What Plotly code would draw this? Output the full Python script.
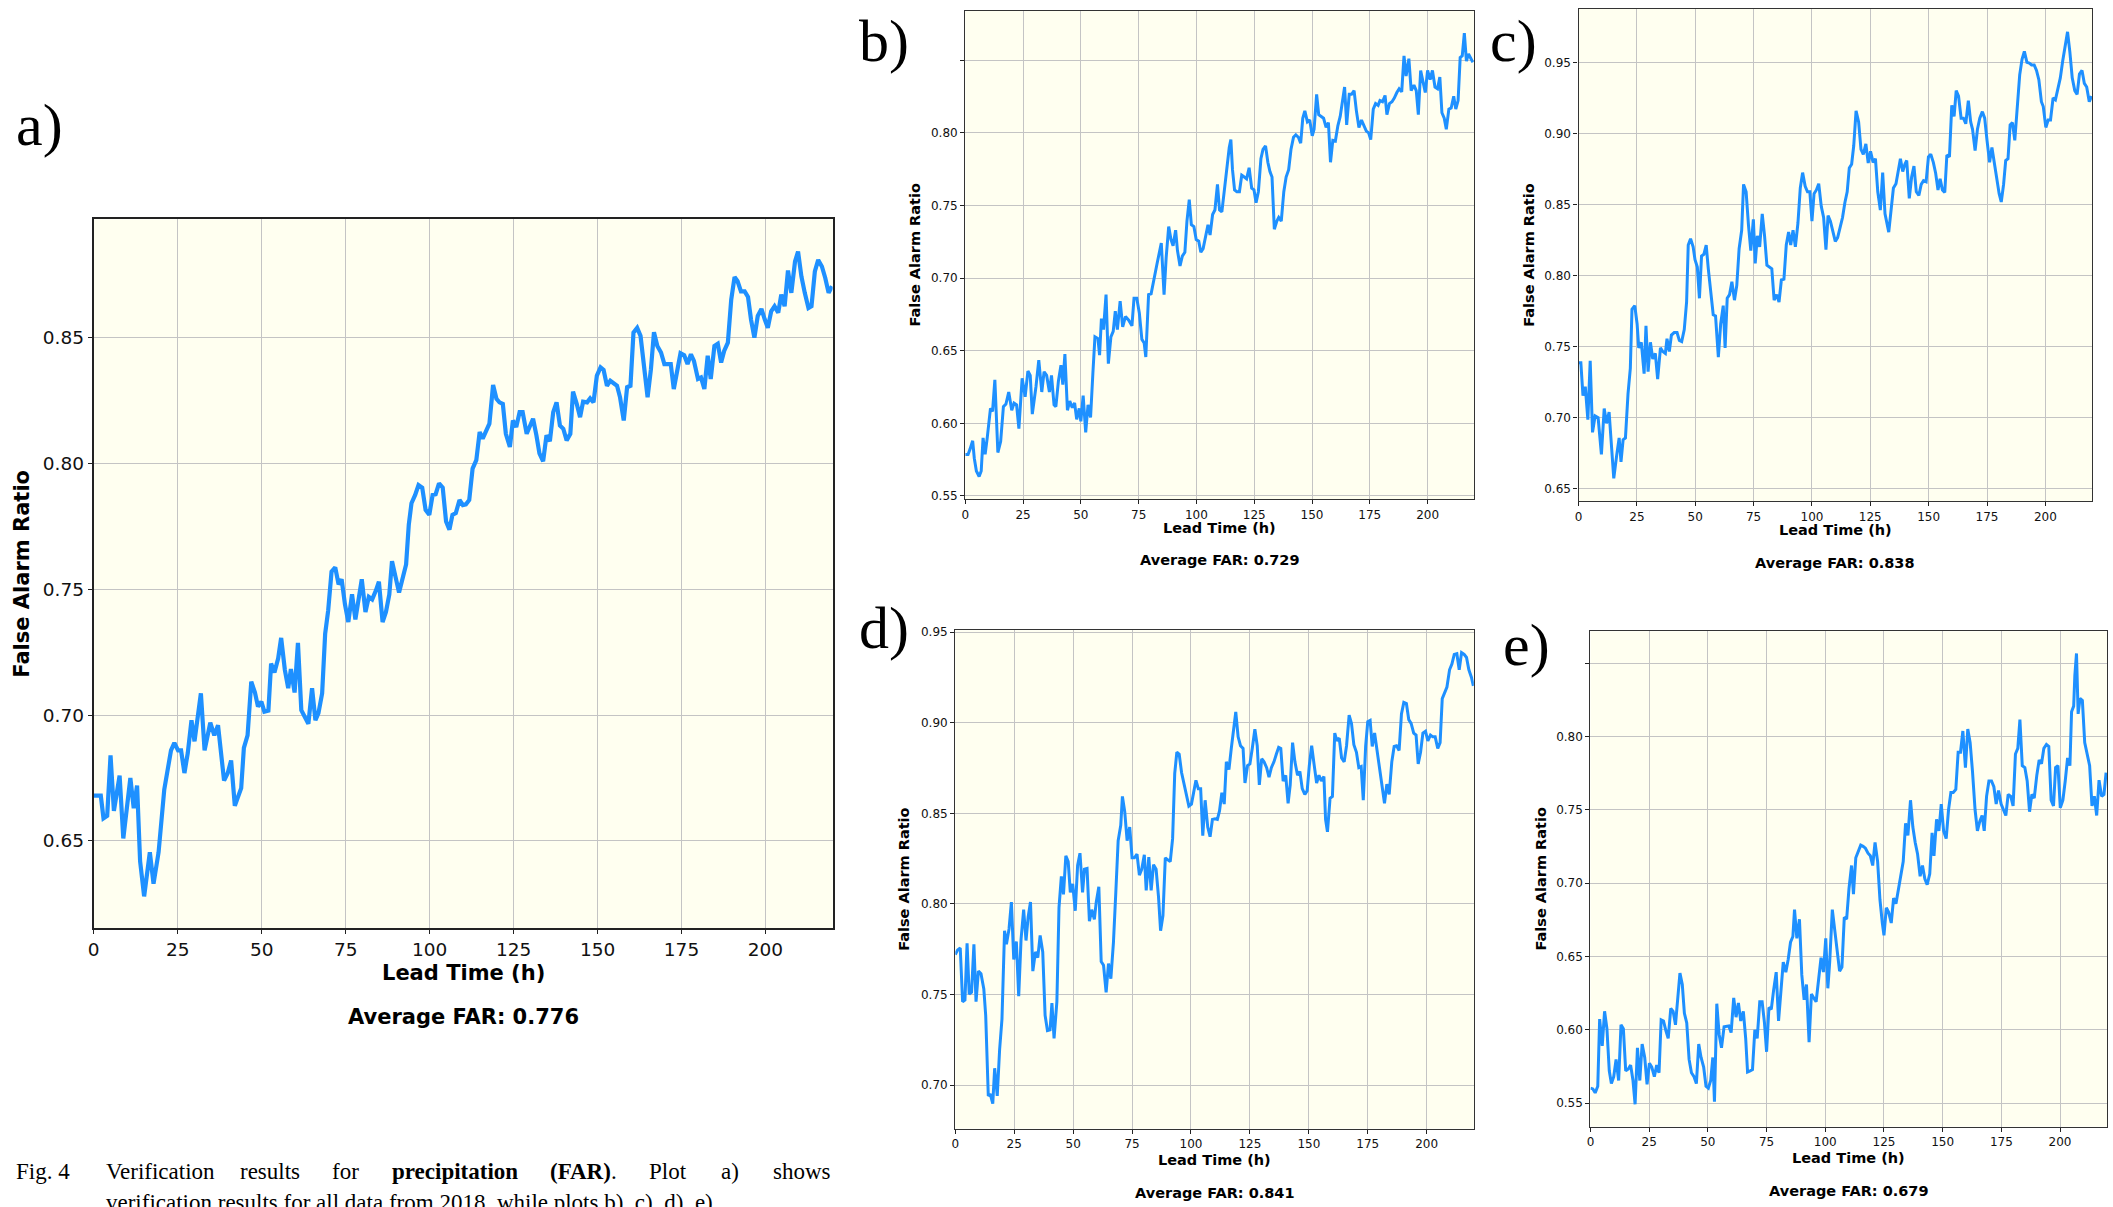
import plotly.graph_objects as go

W, H = 2113, 1207

# ---------------- data (lead time in hours, false alarm ratio) ----------------
a_x = [0, 2.1, 2.9, 4, 5, 6, 7.7, 8.8, 10.9, 11.9, 12.9, 13.8, 15, 16.7, 17.8, 19.3, 21, 23, 24, 25.1, 26, 27, 28,
       29.1, 30, 31, 31.9, 33, 34.7, 35.9, 37, 38.8, 39.9, 40.9, 42, 43.9, 44.7, 45.8, 46.9, 48, 48.9, 49.9, 50.8,
       52, 52.8, 53.8, 54.9, 55.8, 56.9, 57.9, 58.7, 59.8, 60.8, 61.8, 63.9, 65, 66, 66.9, 68, 68.9, 69.8, 70.8,
       71.9, 72.9, 73.8, 74.8, 75.8, 76.9, 77.9, 79.8, 80.9, 81.9, 82.9, 84, 84.9, 86, 87, 88, 88.8, 90.9, 93,
       93.8, 94.6, 95.7, 96.7, 97.8, 98.8, 99.9, 100.9, 101.8, 102.8, 103.9, 104.9, 105.9, 106.8, 107.8, 108.9,
       109.9, 110.8, 111.8, 112.8, 113.9, 114.9, 115.8, 117.8, 118.9, 119.9, 120.8, 121.8, 122.7, 123.9, 124.8,
       125.8, 126.8, 127.7, 128.9, 130.8, 131.8, 132.7, 133.8, 134.8, 135.8, 136.8, 137.8, 138.8, 139.8, 140.8,
       141.9, 142.7, 143.8, 144.8, 145.7, 146.9, 147.8, 148.8, 149.8, 150.9, 151.8, 152.8, 153.8, 155.8, 156.7,
       157.8, 158.8, 159.8, 160.7, 161.8, 162.8, 163.8, 164.9, 165.9, 166.8, 167.8, 168.9, 169.9, 171.8, 172.7,
       174.7, 175.8, 176.8, 177.8, 178.7, 179.9, 180.8, 181.8, 182.8, 183.7, 184.8, 185.8, 186.8, 187.7, 188.8,
       189.8, 190.8, 191.7, 192.7, 193.8, 194.8, 195.7, 196.7, 197.7, 198.8, 199.8, 200.7, 201.7, 202.7, 203.8,
       204.7, 205.7, 206.7, 207.7, 208.8, 209.7, 210.7, 211.7, 212.8, 213.7, 214.7, 215.7, 216.8, 217.8, 218.8,
       219.8]
a_y = [0.668, 0.668, 0.659, 0.660, 0.684, 0.662, 0.676, 0.651, 0.675, 0.663, 0.672, 0.642, 0.628, 0.6455, 0.633,
       0.6455, 0.6705, 0.686, 0.689, 0.686, 0.686, 0.677, 0.685, 0.698, 0.6896, 0.6995, 0.7087, 0.686, 0.697,
       0.692, 0.696, 0.674, 0.677, 0.682, 0.664, 0.671, 0.687, 0.692, 0.7133, 0.709, 0.7034, 0.7054, 0.7014,
       0.7018, 0.7205, 0.717, 0.7225, 0.7307, 0.718, 0.7107, 0.7183, 0.709, 0.7287, 0.702, 0.6966, 0.7107, 0.698,
       0.7008, 0.7087, 0.7324, 0.7416, 0.757, 0.7587, 0.752, 0.754, 0.744, 0.737, 0.748, 0.738, 0.754, 0.741,
       0.747, 0.746, 0.7495, 0.753, 0.737, 0.741, 0.748, 0.7612, 0.7487, 0.7599, 0.7757, 0.7842, 0.7875, 0.7914,
       0.7904, 0.7816, 0.7796, 0.7875, 0.7878, 0.7921, 0.7904, 0.777, 0.7737, 0.7796, 0.7803, 0.7855, 0.7835,
       0.7838, 0.7855, 0.798, 0.8013, 0.8125, 0.8099, 0.8158, 0.8312, 0.8257, 0.8243, 0.8237, 0.8118, 0.8066,
       0.8171, 0.8145, 0.8204, 0.8204, 0.8118, 0.8178, 0.8112, 0.804, 0.8009, 0.8112, 0.8088, 0.8204, 0.8243,
       0.8151, 0.8138, 0.8092, 0.8118, 0.8286, 0.8237, 0.8184, 0.8246, 0.8243, 0.8259, 0.8243, 0.8349, 0.8382,
       0.8372, 0.8309, 0.8329, 0.8309, 0.8263, 0.8171, 0.8303, 0.8309, 0.852, 0.8539, 0.8507, 0.8395, 0.8263,
       0.8375, 0.8522, 0.8467, 0.8441, 0.8395, 0.8395, 0.8296, 0.8438, 0.843, 0.8395, 0.8434, 0.8408, 0.8336,
       0.8342, 0.8296, 0.8428, 0.8336, 0.8467, 0.8476, 0.8401, 0.8447, 0.848, 0.8651, 0.8741, 0.8724, 0.8684,
       0.8684, 0.8662, 0.8572, 0.85, 0.8586, 0.8614, 0.8572, 0.8539, 0.8605, 0.8625, 0.8599, 0.8671, 0.8625,
       0.8767, 0.8678, 0.8803, 0.8842, 0.8743, 0.8678, 0.8618, 0.8625, 0.8763, 0.8809, 0.8783, 0.8737, 0.8678,
       0.8704]

b_x = [0, 1.2, 2.1, 3.2, 3.9, 4.8, 6, 6.9, 7.7, 8.6, 9.5, 10.9, 11.8, 12.8, 14.1, 15.3, 16.5, 17.6, 18.8, 20.1,
       21.1, 22.2, 23.2, 24.6, 25.9, 27.1, 28.1, 29, 30.6, 31.8, 33.1, 34.1, 35.2, 36.4, 37.3, 38.4, 39.2, 40.3,
       41.4, 42.2, 43.1, 44.2, 45.2, 46.3, 47.3, 48.2, 49.3, 50, 51, 52.1, 53.1, 54.2, 55.2, 56.1, 57.4, 58.1,
       58.9, 59.8, 60.9, 61.9, 63, 64, 64.9, 65.8, 67, 68.1, 69.3, 70.7, 72.1, 73, 74.2, 75.3, 76.4, 77.4, 78.1,
       79.3, 80.4, 81.8, 83, 84.8, 86, 86.9, 88, 89, 89.9, 91, 91.8, 92.9, 93.9, 95, 95.9, 96.9, 97.8, 98.9, 99.9,
       101, 101.9, 102.9, 104, 105, 105.9, 107, 108, 109.1, 110, 111, 112.1, 113.1, 114.2, 114.9, 115.6, 116.5,
       117.5, 118.6, 119.6, 120.7, 121.7, 122.8, 123.9, 124.9, 125.8, 126.8, 127.9, 128.8, 129.9, 130.9, 131.8,
       132.7, 133.7, 134.8, 135.6, 136.7, 137.8, 138.8, 139.9, 140.9, 142, 143, 144.1, 145.1, 146, 146.9, 148,
       149, 150.1, 150.9, 152, 152.9, 153.9, 155, 156.1, 157.1, 158, 159, 160.1, 161.2, 162.2, 163.3, 164.1, 165,
       166.1, 167.1, 168.2, 169.2, 170.3, 171.4, 172.4, 173.5, 174.5, 175.4, 176.5, 177.5, 178.6, 179.4, 180.5,
       181.6, 182.4, 183.5, 184.6, 185.6, 186.7, 187.7, 188.8, 189.8, 190.7, 191.9, 192.9, 194.1, 195.1, 196,
       197, 198.1, 199, 200, 201.1, 202.1, 203.2, 204.3, 205.3, 206.2, 207.2, 208.1, 209.2, 210.2, 211.3, 212.2,
       213.2, 214.1, 215, 215.9, 216.8, 217.7, 218.6, 219.6]
b_y = [0.5786, 0.5786, 0.5824, 0.588, 0.576, 0.5672, 0.5634, 0.5672, 0.59, 0.5786, 0.59, 0.6103, 0.6082, 0.63,
       0.5799, 0.5875, 0.6115, 0.6133, 0.6216, 0.609, 0.614, 0.6128, 0.5963, 0.631, 0.6183, 0.636, 0.633, 0.6064,
       0.6254, 0.6436, 0.6216, 0.6355, 0.633, 0.6216, 0.633, 0.6128, 0.6115, 0.6292, 0.6401, 0.6267, 0.6477,
       0.609, 0.6153, 0.6108, 0.614, 0.6027, 0.6103, 0.6014, 0.6191, 0.5938, 0.6128, 0.604, 0.6343, 0.6596,
       0.6583, 0.647, 0.6722, 0.6646, 0.6887, 0.6411, 0.6596, 0.6634, 0.6773, 0.6646, 0.6841, 0.6664, 0.6735,
       0.671, 0.6672, 0.6862, 0.6862, 0.676, 0.6578, 0.6553, 0.6457, 0.6887, 0.6892, 0.7013, 0.7102, 0.7241,
       0.6887, 0.714, 0.7355, 0.7266, 0.7223, 0.733, 0.719, 0.7084, 0.7152, 0.7178, 0.7393, 0.754, 0.7368,
       0.7355, 0.7266, 0.7254, 0.7178, 0.7203, 0.7297, 0.7368, 0.7297, 0.7438, 0.7469, 0.7646, 0.7469, 0.7456,
       0.7608, 0.7772, 0.7899, 0.7954, 0.7747, 0.7608, 0.7595, 0.7595, 0.7709, 0.7696, 0.7684, 0.776, 0.762,
       0.7608, 0.7519, 0.7595, 0.7823, 0.7886, 0.7911, 0.7798, 0.7734, 0.7696, 0.7337, 0.7393, 0.7418, 0.7393,
       0.7595, 0.7696, 0.7747, 0.7886, 0.797, 0.7987, 0.797, 0.7929, 0.8101, 0.8152, 0.8076, 0.8089, 0.798,
       0.8025, 0.8266, 0.8126, 0.8114, 0.8101, 0.8038, 0.8071, 0.7798, 0.7949, 0.7944, 0.8051, 0.8114, 0.8215,
       0.8316, 0.8056, 0.8266, 0.8266, 0.8291, 0.8152, 0.8038, 0.8089, 0.8051, 0.8013, 0.80, 0.7954, 0.8164,
       0.8202, 0.819, 0.8223, 0.8215, 0.8258, 0.8126, 0.8202, 0.8215, 0.824, 0.8278, 0.8304, 0.8283, 0.8531,
       0.8392, 0.8511, 0.8291, 0.8329, 0.8291, 0.8126, 0.843, 0.8354, 0.8278, 0.843, 0.8367, 0.843, 0.8316,
       0.8304, 0.8385, 0.8139, 0.8101, 0.8025, 0.8164, 0.8172, 0.8253, 0.8164, 0.8223, 0.8519, 0.8531, 0.8688,
       0.8494, 0.8544, 0.8511, 0.8486]

c_x = [0, 1, 1.9, 2.9, 4, 5, 6, 7.1, 8.4, 9.8, 11, 12, 13.1, 14.1, 15.1, 16.4, 17.4, 18.2, 19.1, 20.1, 21.2,
       22.2, 22.9, 24.1, 25.1, 25.8, 26.9, 28.1, 28.9, 29.8, 30.8, 31.8, 32.9, 33.9, 35.1, 36.1, 37.2, 37.9,
       38.9, 39.8, 41, 42.2, 43.2, 44.2, 45.3, 46.3, 47, 48, 49.1, 49.9, 50.9, 51.8, 52.7, 53.7, 54.7, 55.6,
       56.6, 57.7, 58.7, 59.9, 60.9, 62, 62.8, 63.7, 64.7, 65.7, 66.8, 67.8, 68.8, 69.9, 70.7, 71.8, 72.8, 73.8,
       74.9, 75.7, 76.6, 77.6, 78.7, 79.7, 80.7, 81.8, 82.8, 83.8, 84.9, 85.9, 86.9, 88, 89, 90, 90.9, 91.9,
       92.9, 94, 95, 96, 97.1, 98.1, 99.1, 100, 100.9, 101.9, 102.9, 104, 105, 106, 106.9, 107.9, 109, 110, 111,
       112, 113.1, 114.1, 115.1, 116, 117, 117.9, 118.9, 120, 121, 122, 123.1, 124.1, 125.1, 126.2, 127.2,
       128.2, 129.3, 130.3, 131.3, 132.9, 133.9, 134.9, 136, 137, 137.9, 138.9, 139.8, 140.6, 141.7, 142.7,
       143.7, 144.7, 145.8, 146.8, 147.8, 148.9, 149.9, 150.9, 152, 153, 154, 154.9, 155.9, 156.9, 157.8,
       158.9, 159.9, 160.9, 161.8, 162.8, 163.9, 164.9, 165.9, 167, 168, 168.8, 169.9, 170.9, 171.9, 173, 174,
       175, 176.1, 177.1, 178.1, 179.2, 180.2, 181.1, 182.1, 183, 184, 184.9, 185.9, 186.9, 188, 189, 190, 191,
       192.1, 193.1, 194.1, 195.2, 196.2, 197.2, 198.3, 199.1, 200.2, 201.2, 202.2, 203.3, 204.3, 205.3, 206.4,
       207.4, 208.4, 209.5, 210.5, 211.5, 212.6, 213.6, 214.6, 215.7, 216.7, 217.7, 218.8, 219.8]
c_y = [0.7388, 0.7388, 0.7156, 0.722, 0.6987, 0.7401, 0.6897, 0.7013, 0.70, 0.6742, 0.7065, 0.6961, 0.7039,
       0.678, 0.6573, 0.6742, 0.6858, 0.669, 0.6845, 0.6858, 0.7168, 0.735, 0.7763, 0.7789, 0.766, 0.7492,
       0.7531, 0.7311, 0.7647, 0.7324, 0.7531, 0.7414, 0.7453, 0.7272, 0.7492, 0.7466, 0.7453, 0.7556, 0.7466,
       0.7582, 0.76, 0.76, 0.7544, 0.7536, 0.7621, 0.7815, 0.8216, 0.826, 0.8203, 0.8113, 0.8061, 0.7841,
       0.8139, 0.8151, 0.8216, 0.8048, 0.7893, 0.7725, 0.7717, 0.7427, 0.766, 0.7789, 0.7492, 0.7841, 0.7867,
       0.7957, 0.7828, 0.7932, 0.819, 0.832, 0.8643, 0.8591, 0.8358, 0.8177, 0.8397, 0.8087, 0.8281, 0.8203,
       0.8436, 0.8281, 0.8074, 0.8061, 0.8048, 0.7828, 0.7867, 0.7815, 0.797, 0.7976, 0.8216, 0.8307, 0.8216,
       0.832, 0.8203, 0.8371, 0.8617, 0.8726, 0.863, 0.8591, 0.8591, 0.8384, 0.8578, 0.8604, 0.8648, 0.8488,
       0.841, 0.8183, 0.8423, 0.8384, 0.8312, 0.8242, 0.8268, 0.8345, 0.841, 0.8514, 0.8591, 0.8759, 0.8785,
       0.8915, 0.916, 0.9083, 0.8889, 0.8855, 0.8928, 0.8793, 0.8876, 0.8798, 0.8824, 0.8591, 0.8462, 0.8726,
       0.8436, 0.8307, 0.8462, 0.8617, 0.8648, 0.8734, 0.8824, 0.8734, 0.8785, 0.8811, 0.8545, 0.8695, 0.8772,
       0.8591, 0.8565, 0.8643, 0.8669, 0.8661, 0.8837, 0.8855, 0.8798, 0.8721, 0.8604, 0.8682, 0.8604, 0.8586,
       0.885, 0.8837, 0.9199, 0.9122, 0.9303, 0.9264, 0.9109, 0.9109, 0.907, 0.9233, 0.9083, 0.9031, 0.8881,
       0.9031, 0.9109, 0.9155, 0.9109, 0.8953, 0.8798, 0.8902, 0.8798, 0.8669, 0.8578, 0.8519, 0.8643, 0.8811,
       0.8824, 0.9062, 0.9078, 0.8953, 0.9233, 0.9414, 0.9523, 0.958, 0.9502, 0.9497, 0.9484, 0.9484, 0.9445,
       0.938, 0.9225, 0.9191, 0.9044, 0.9096, 0.9096, 0.9251, 0.9238, 0.9316, 0.9393, 0.951, 0.9613, 0.9717,
       0.9574, 0.9393, 0.9303, 0.9277, 0.9419, 0.9445, 0.9354, 0.9329, 0.9225, 0.9264]

d_x = [0, 1, 2.1, 3.1, 4.1, 5, 5.9, 6.9, 7.9, 8.8, 9.8, 10.9, 12.1, 12.9, 14, 14.8, 15.9, 16.7, 17.8, 18.8, 19.8,
       20.9, 21.7, 22.8, 23.8, 24.8, 25.9, 26.9, 27.9, 29, 30, 30.9, 31.9, 32.9, 34, 35, 36, 37.1, 38.1, 39.1,
       40.2, 41, 41.9, 43.1, 44, 45, 45.9, 46.9, 47.9, 48.8, 49.8, 50.9, 51.9, 52.9, 54, 54.8, 55.9, 56.9, 57.9,
       59, 59.8, 60.9, 61.9, 62.9, 64, 65, 66, 67.1, 68.1, 69.1, 70.2, 70.9, 71.9, 72.9, 74, 75, 76, 77.1, 78.1,
       79.1, 80.2, 81, 82.1, 83.1, 84.1, 85.2, 86.2, 87.1, 88.1, 89.1, 90.2, 91.2, 92.2, 93.1, 94, 95, 96, 97.1,
       98.1, 99.1, 100.2, 101.2, 102.1, 103.1, 104.1, 105, 106, 107.1, 108.1, 109.1, 110.2, 111.2, 112.1,
       113.1, 114.1, 115, 116.1, 117.1, 118.1, 119, 120, 121, 122.1, 122.9, 124, 125, 126, 127.1, 128.1, 129,
       130, 131, 132.1, 133.1, 134.1, 135.2, 136.2, 137.2, 138.1, 139.1, 140.2, 141.2, 142.1, 143.1, 144.1,
       145.2, 146.2, 147.2, 148.3, 149.3, 150.2, 151.2, 152.2, 153.3, 154.3, 155.3, 156.4, 157.1, 157.9, 159,
       160, 161, 161.9, 162.9, 163.9, 165, 166, 167.1, 168.1, 169.1, 170.2, 171.2, 172.2, 173.1, 174.1, 175,
       176, 176.9, 177.9, 179, 180, 181, 182.1, 183.1, 184.1, 185.2, 186.2, 187.2, 188.3, 189.3, 190.3, 191.4,
       192.4, 193.4, 194.5, 195.5, 196.4, 197.4, 198.4, 199.5, 200.5, 201.6, 202.6, 203.6, 204.7, 205.7, 206.6,
       207.6, 208.6, 209.7, 210.7, 211.7, 212.8, 213.8, 214.8, 215.9, 216.9, 217.9, 219, 219.8]
d_y = [0.772, 0.7746, 0.7756, 0.746, 0.747, 0.7782, 0.7502, 0.7512, 0.7777, 0.746, 0.7629, 0.7614, 0.753,
       0.7385, 0.694, 0.6951, 0.6898, 0.7093, 0.694, 0.7195, 0.7364, 0.7852, 0.7777, 0.7862, 0.801, 0.7693,
       0.7792, 0.7491, 0.7805, 0.7968, 0.7798, 0.7926, 0.801, 0.7629, 0.7735, 0.7703, 0.7826, 0.7735, 0.7385,
       0.7301, 0.7305, 0.7453, 0.7258, 0.746, 0.7979, 0.8152, 0.8053, 0.8265, 0.8233, 0.8063, 0.811, 0.7962,
       0.8212, 0.828, 0.8063, 0.8191, 0.8195, 0.7904, 0.7968, 0.7915, 0.801, 0.8095, 0.7682, 0.7661, 0.7512,
       0.7671, 0.7587, 0.7788, 0.8063, 0.8349, 0.8434, 0.8593, 0.8508, 0.8349, 0.8424, 0.8254, 0.8254, 0.8275,
       0.8159, 0.8191, 0.8271, 0.8074, 0.8258, 0.8074, 0.8216, 0.8191, 0.8042, 0.7852, 0.7936, 0.8254, 0.8243,
       0.8233, 0.836, 0.872, 0.8837, 0.8826, 0.8725, 0.8657, 0.8597, 0.854, 0.8551, 0.8614, 0.8682, 0.8636,
       0.8636, 0.8377, 0.8572, 0.8424, 0.8371, 0.8466, 0.847, 0.8466, 0.8513, 0.8614, 0.8551, 0.8784, 0.8741,
       0.8858, 0.8953, 0.9059, 0.8922, 0.8873, 0.8858, 0.8667, 0.8763, 0.8773, 0.8858, 0.8964, 0.8873, 0.8657,
       0.8801, 0.8784, 0.8752, 0.8699, 0.8752, 0.8784, 0.8826, 0.8864, 0.8858, 0.8678, 0.871, 0.8555, 0.8657,
       0.889, 0.8784, 0.871, 0.8731, 0.8636, 0.8604, 0.8625, 0.8763, 0.8873, 0.8773, 0.8667, 0.871, 0.8678,
       0.8703, 0.8466, 0.8398, 0.8583, 0.8593, 0.8943, 0.89, 0.8915, 0.8805, 0.8784, 0.8873, 0.9042, 0.8996,
       0.8879, 0.8837, 0.8752, 0.8758, 0.8572, 0.8869, 0.9006, 0.9013, 0.8869, 0.8943, 0.8837, 0.8763, 0.8646,
       0.8555, 0.8661, 0.8604, 0.8784, 0.8869, 0.8873, 0.8847, 0.9049, 0.9112, 0.9106, 0.9017, 0.8996, 0.8943,
       0.8932, 0.8773, 0.8837, 0.8943, 0.8953, 0.89, 0.8932, 0.8922, 0.8922, 0.8858, 0.889, 0.9133, 0.9165,
       0.9197, 0.9292, 0.9324, 0.9377, 0.9381, 0.9292, 0.9387, 0.9377, 0.936, 0.9292, 0.925, 0.9203]

e_x = [0, 1, 2, 3.1, 3.9, 5, 6, 7, 8, 8.9, 9.9, 10.9, 12, 13, 14, 15, 16.1, 17.1, 18.1, 19, 20, 21, 22, 23.1,
       24.1, 25.1, 26.1, 27.2, 28.2, 29.2, 30.1, 31.1, 32.1, 33.1, 34.2, 35.2, 36.2, 37.2, 38.1, 39.1, 40, 41,
       42, 43, 44.1, 45.1, 46.1, 47.1, 48.2, 49.2, 50.2, 51.2, 52.1, 52.8, 53.8, 54.8, 55.8, 56.9, 57.9, 58.9,
       59.9, 61, 62, 63, 64, 65.1, 66.1, 66.9, 68, 69, 70, 71, 72.1, 73.1, 74.1, 75, 76, 77, 78, 79.1, 80.1,
       81.1, 82.1, 83.2, 84.2, 85.2, 86.2, 86.9, 87.9, 89, 90, 91, 92, 93.1, 94.1, 95.1, 96.1, 97.2, 98.2, 99.2,
       100.2, 101.1, 101.9, 103, 104, 105, 106.1, 107.1, 108.1, 109.1, 110.1, 111.2, 112, 113, 114.1, 115.1,
       116.1, 117.1, 118.2, 119.2, 120.2, 121.2, 122.3, 123.3, 124.3, 125, 126, 127, 128.1, 129.1, 130.1,
       131.1, 132.2, 133.2, 134.2, 135.2, 136.3, 137.3, 138.3, 139.3, 140.4, 141.4, 142.4, 143.4, 144.5,
       145.5, 146.3, 147.4, 148.4, 149.4, 150.4, 151.5, 152.5, 153.5, 154.5, 155.6, 156.6, 157.6, 158.6,
       159.7, 160.7, 161.7, 162.7, 163.8, 164.8, 165.8, 166.8, 167.7, 168.7, 169.7, 170.8, 171.8, 172.8,
       173.8, 174.9, 175.9, 176.9, 177.9, 179, 180, 181, 182, 182.9, 183.9, 185, 186, 187, 188, 189, 190.1,
       191.1, 192.1, 193.1, 194.2, 195.2, 196.2, 197.2, 198.1, 199.1, 200.1, 201.2, 202.2, 203.2, 204.2,
       204.9, 205.8, 206.3, 207, 207.7, 208.5, 209.5, 210.5, 211.5, 212.6, 213.6, 214.6, 215.6, 216.6, 217.7,
       218.7, 219.6]
e_y = [0.5602, 0.5597, 0.557, 0.5615, 0.6073, 0.589, 0.6126, 0.6008, 0.572, 0.5633, 0.568, 0.5798, 0.5654,
       0.6034, 0.6008, 0.572, 0.5733, 0.5759, 0.5654, 0.5492, 0.5877, 0.5654, 0.5903, 0.5811, 0.5628, 0.5772,
       0.5746, 0.568, 0.5759, 0.5707, 0.6068, 0.606, 0.5995, 0.5942, 0.6146, 0.6126, 0.6034, 0.6204, 0.6387,
       0.6309, 0.6112, 0.6047, 0.5798, 0.5707, 0.568, 0.5633, 0.5903, 0.5811, 0.5746, 0.5615, 0.5602, 0.5654,
       0.5811, 0.551, 0.6178, 0.5968, 0.5877, 0.6021, 0.6026, 0.6026, 0.5981, 0.6217, 0.6086, 0.6183, 0.606,
       0.6126, 0.5942, 0.5712, 0.572, 0.5728, 0.60, 0.5942, 0.6191, 0.6191, 0.6047, 0.585, 0.6152, 0.6139,
       0.627, 0.6393, 0.606, 0.6257, 0.6461, 0.6393, 0.6479, 0.6597, 0.6636, 0.6819, 0.6623, 0.6754, 0.6374,
       0.6204, 0.6309, 0.5916, 0.6243, 0.6217, 0.6191, 0.6348, 0.6492, 0.6393, 0.6623, 0.6283, 0.6466, 0.6819,
       0.6675, 0.6531, 0.64, 0.6427, 0.6767, 0.6754, 0.6963, 0.712, 0.6924, 0.7173, 0.7212, 0.7259, 0.7251,
       0.7238, 0.7204, 0.7186, 0.712, 0.7277, 0.7147, 0.6885, 0.6728, 0.6644, 0.6832, 0.6801, 0.6728, 0.6898,
       0.6859, 0.695, 0.7068, 0.7147, 0.7408, 0.7325, 0.7565, 0.7382, 0.7277, 0.7199, 0.7047, 0.712, 0.7029,
       0.6989, 0.7063, 0.7343, 0.7186, 0.7435, 0.7356, 0.7539, 0.7356, 0.7304, 0.75, 0.7618, 0.7618, 0.7639,
       0.7893, 0.7893, 0.8037, 0.7788, 0.805, 0.7958, 0.7762, 0.75, 0.7356, 0.7421, 0.7461, 0.7356, 0.7592,
       0.7696, 0.7696, 0.7657, 0.7539, 0.7631, 0.7539, 0.75, 0.7461, 0.7605, 0.7592, 0.7526, 0.788, 0.7919,
       0.8115, 0.7801, 0.7788, 0.7696, 0.7487, 0.7605, 0.7579, 0.7736, 0.784, 0.7814, 0.7919, 0.7945, 0.7932,
       0.7565, 0.7526, 0.7788, 0.7801, 0.7513, 0.7565, 0.7696, 0.7853, 0.7801, 0.8168, 0.8207, 0.8416, 0.8566,
       0.8154, 0.8259, 0.8246, 0.7958, 0.7893, 0.7801, 0.7526, 0.7592, 0.7461, 0.7702, 0.7592, 0.7605, 0.7754]

x_ticks = [0, 25, 50, 75, 100, 125, 150, 175, 200]
x_tick_labels = ["0", "25", "50", "75", "100", "125", "150", "175", "200"]

panel_labels = ["a)", "b)", "c)", "d)", "e)"]
avg_texts = ["Average FAR: 0.776", "Average FAR: 0.729", "Average FAR: 0.838",
             "Average FAR: 0.841", "Average FAR: 0.679"]
a_yticks = [0.65, 0.70, 0.75, 0.80, 0.85]
a_ytext = ["0.65", "0.70", "0.75", "0.80", "0.85"]
b_yticks = [0.55, 0.60, 0.65, 0.70, 0.75, 0.80, 0.85]
b_ytext = ["0.55", "0.60", "0.65", "0.70", "0.75", "0.80", ""]
c_yticks = [0.65, 0.70, 0.75, 0.80, 0.85, 0.90, 0.95]
c_ytext = ["0.65", "0.70", "0.75", "0.80", "0.85", "0.90", "0.95"]
d_yticks = [0.70, 0.75, 0.80, 0.85, 0.90, 0.95]
d_ytext = ["0.70", "0.75", "0.80", "0.85", "0.90", "0.95"]
e_yticks = [0.55, 0.60, 0.65, 0.70, 0.75, 0.80, 0.85]
e_ytext = ["0.55", "0.60", "0.65", "0.70", "0.75", "0.80", ""]

cap_words = ["Fig. 4", "Verification", "results", "for", "<b>precipitation</b>", "<b>(FAR)</b>.", "Plot", "a)",
             "shows"]
cap_line2 = "verification results for all data from 2018, while plots b), c), d), e)"

# ---------------- layout helpers ----------------
def px(x):
    return x / W


def py(y):
    return 1 - y / H


LINE = "#1e90ff"
BG = "#fffff0"
GRID = "#c4c4c4"

panels = [
    dict(x=a_x, y=a_y, tv=a_yticks, tt=a_ytext, box=(88, 829, 216, 930), yr=[0.6154, 0.897], big=True,
         lab=(34, 121), ytitle_x=16, lead_y=975, avg_y=1020),
    dict(x=b_x, y=b_y, tv=b_yticks, tt=b_ytext, box=(962, 1472, 6, 498), yr=[0.5477, 0.884], big=False,
         lab=(880, 36), ytitle_x=912, lead_y=527, avg_y=559),
    dict(x=c_x, y=c_y, tv=c_yticks, tt=c_ytext, box=(1577, 2092, 4, 500), yr=[0.6412, 0.9878], big=False,
         lab=(1512, 36), ytitle_x=1527, lead_y=529, avg_y=562),
    dict(x=d_x, y=d_y, tv=d_yticks, tt=d_ytext, box=(952, 1472, 630, 1132), yr=[0.676, 0.951], big=False,
         lab=(881, 628), ytitle_x=901, lead_y=1164, avg_y=1197),
    dict(x=e_x, y=e_y, tv=e_yticks, tt=e_ytext, box=(1589, 2107, 631, 1130), yr=[0.534, 0.8717], big=False,
         lab=(1525, 645), ytitle_x=1539, lead_y=1162, avg_y=1195),
]

fig = go.Figure()
annotations = []
layout = dict(
    width=W, height=H, margin=dict(l=0, r=0, t=0, b=0, pad=0),
    paper_bgcolor="white", plot_bgcolor=BG, showlegend=False,
    font=dict(family="DejaVu Sans", color="black"),
)

for i, p in enumerate(panels):
    n = "" if i == 0 else str(i + 1)
    l, r, t, b = p["box"]
    big = p["big"]
    fs = 18.5 if big else 12
    tfs = 21 if big else 14.5
    lw = 4.2 if big else 3
    fig.add_trace(go.Scatter(x=p["x"], y=p["y"], mode="lines", line=dict(color=LINE, width=lw),
                             xaxis="x" + n, yaxis="y" + n, hoverinfo="skip"))
    axcommon = dict(showgrid=True, gridcolor=GRID, gridwidth=1, zeroline=False, showline=True,
                    linecolor="#222" if big else "#333", linewidth=2 if big else 1.4, mirror=True,
                    ticks="outside", ticklen=4, tickcolor="#222", tickwidth=1.2,
                    tickfont=dict(size=fs, family="DejaVu Sans", color="#111"), fixedrange=True)
    layout["xaxis" + n] = dict(domain=[px(l), px(r)], range=[0, 220], anchor="y" + n,
                               tickmode="array", tickvals=x_ticks, ticktext=x_tick_labels, **axcommon)
    layout["yaxis" + n] = dict(domain=[py(b), py(t)], range=p["yr"], anchor="x" + n,
                               tickmode="array", tickvals=p["tv"], ticktext=p["tt"], **axcommon)
    cx = (l + r) / 2
    annotations += [
        dict(text="<b>False Alarm Ratio</b>", x=px(p["ytitle_x"]), y=py((t + b) / 2), xref="paper",
             yref="paper", textangle=-90, showarrow=False, xanchor="center", yanchor="middle",
             font=dict(size=tfs, family="DejaVu Sans", color="black")),
        dict(text="<b>Lead Time (h)</b>", x=px(cx), y=py(p["lead_y"]), xref="paper", yref="paper",
             showarrow=False, xanchor="center", yanchor="middle",
             font=dict(size=tfs, family="DejaVu Sans", color="black")),
        dict(text="<b>" + avg_texts[i] + "</b>", x=px(cx), y=py(p["avg_y"]), xref="paper", yref="paper",
             showarrow=False, xanchor="center", yanchor="middle",
             font=dict(size=tfs, family="DejaVu Sans", color="black")),
        dict(text=panel_labels[i], x=px(p["lab"][0]), y=py(p["lab"][1]), xref="paper", yref="paper",
             showarrow=False, xanchor="center", yanchor="middle",
             font=dict(size=60, family="Liberation Serif", color="black")),
    ]

# caption (justified first line placed word by word)
cap_x = [8, 98, 233, 325, 385, 544, 643, 715, 767]
for w_, x_ in zip(cap_words, cap_x):
    annotations.append(dict(text=w_, x=px(x_), y=py(1175), xref="paper", yref="paper", showarrow=False,
                            xanchor="left", yanchor="middle",
                            font=dict(size=23, family="Liberation Serif", color="black")))
annotations.append(dict(text=cap_line2, x=px(98), y=py(1206), xref="paper", yref="paper", showarrow=False,
                        xanchor="left", yanchor="middle",
                        font=dict(size=23, family="Liberation Serif", color="black")))

layout["annotations"] = annotations
fig.update_layout(**layout)
fig.write_html("out.html", config={"displayModeBar": False})
